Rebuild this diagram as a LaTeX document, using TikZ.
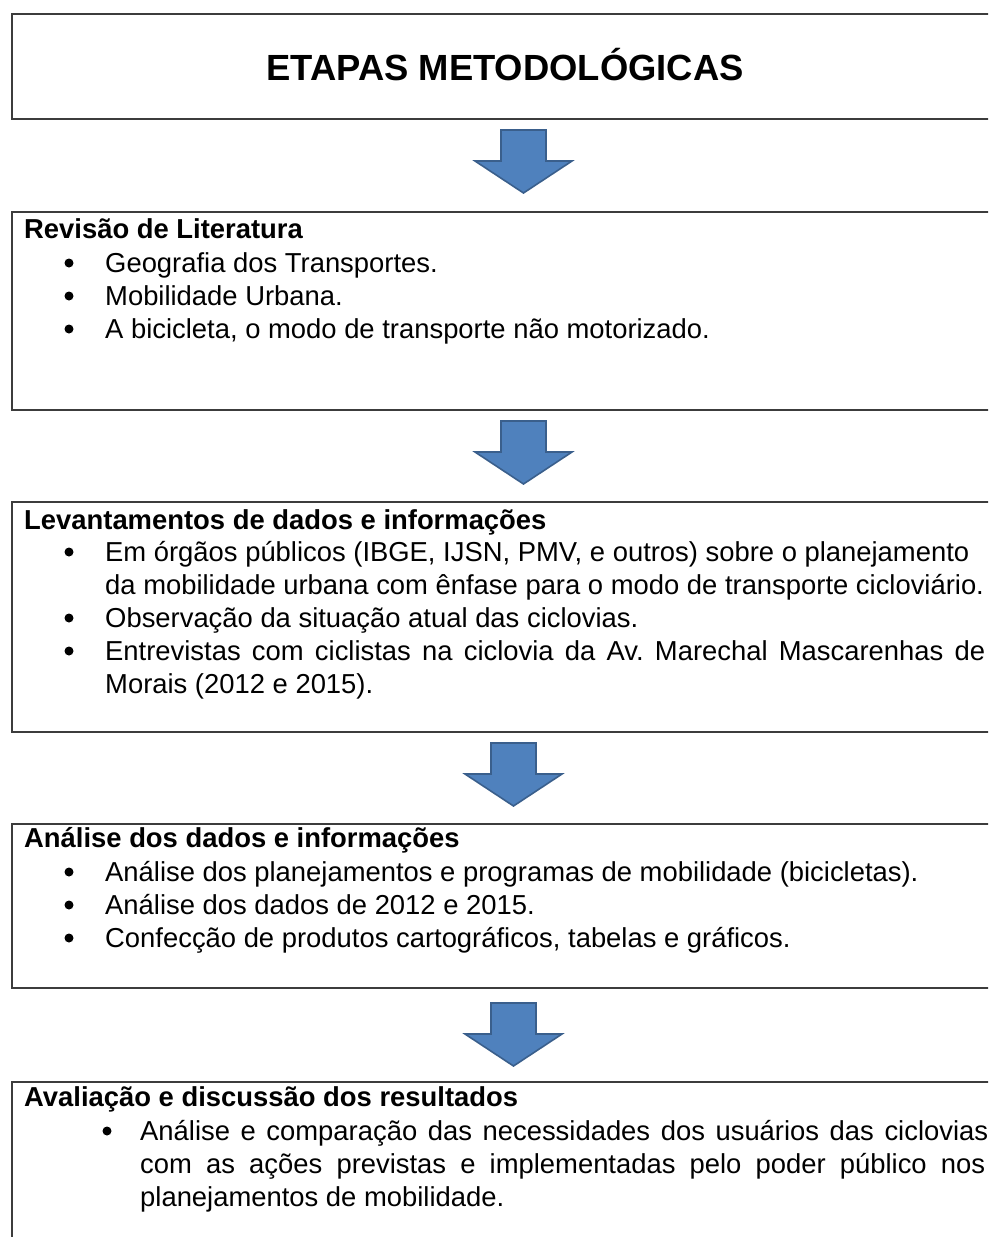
\documentclass[tikz,border=0pt]{standalone}
\usepackage{fontspec}
\setmainfont{Liberation Sans}
\definecolor{boxgray}{HTML}{3C3C3C}
\definecolor{arrfill}{HTML}{4F81BD}
\definecolor{arrline}{HTML}{3A5F8C}
\frenchspacing
\begin{document}
\begin{tikzpicture}[x=1pt,y=-1pt,
  box/.style={draw=boxgray, line width=2.2pt, rectangle, anchor=north west, inner sep=0pt},
  titletext/.style={inner sep=0pt, anchor=base, font=\fontsize{36.4}{40}\selectfont\bfseries},
  head/.style={anchor=base west, inner sep=0pt, font=\fontsize{27.4}{33}\selectfont\bfseries},
  item/.style={anchor=base west, inner sep=0pt, font=\fontsize{27.4}{33}\selectfont},
  dot/.style={fill=black},
  arrowfill/.style={fill=arrfill, draw=arrline, line width=1.6pt, line join=miter},
  downarr/.pic={\path[arrowfill] (-22.5,0) -- (22.5,0) -- (22.5,31) -- (48.5,31) -- (0,63) -- (-48.5,31) -- (-22.5,31) -- cycle;}
]
\clip (0,0) rectangle (988,1237);
\fill[white] (0,0) rectangle (988,1237);

% title
\node[box, minimum width=1000pt, minimum height=105pt] (b0) at (11,13) {};
\node[titletext] (t0) at (505,80) {ETAPAS METODOLÓGICAS};

% arrow 1
\coordinate (a1) at (523.5,130);
\pic at (a1) {downarr};

% box 2
\node[box, minimum width=1000pt, minimum height=198pt] (b1) at (11,211) {};
\node[head] (h1) at (24,238) {Revisão de Literatura};
\fill[dot] (69,263) circle (4.5);
\node[item] (i11) at (105,272) {Geografia dos Transportes.};
\fill[dot] (69,296) circle (4.5);
\node[item] (i12) at (105,305) {Mobilidade Urbana.};
\fill[dot] (69,329) circle (4.5);
\node[item] (i13) at (105,338) {A bicicleta, o modo de transporte não motorizado.};

% arrow 2
\coordinate (a2) at (523.5,421);
\pic at (a2) {downarr};

% box 3
\node[box, minimum width=1000pt, minimum height=230pt] (b2) at (11,501) {};
\node[head] (h2) at (24,529) {Levantamentos de dados e informações};
\fill[dot] (69,552) circle (4.5);
\node[item] (i21) at (105,561) {Em órgãos públicos (IBGE, IJSN, PMV, e outros) sobre o planejamento};
\node[item] (i22) at (105,594) {da mobilidade urbana com ênfase para o modo de transporte cicloviário.};
\fill[dot] (69,618) circle (4.5);
\node[item] (i23) at (105,627) {Observação da situação atual das ciclovias.};
\fill[dot] (69,651) circle (4.5);
\node[item] (i24) at (105,660) {\makebox[880pt][s]{Entrevistas com ciclistas na ciclovia da Av. Marechal Mascarenhas de}};
\node[item] (i25) at (105,693) {Morais (2012 e 2015).};

% arrow 3
\coordinate (a3) at (513.5,743);
\pic at (a3) {downarr};

% box 4
\node[box, minimum width=1000pt, minimum height=164pt] (b3) at (11,823) {};
\node[head] (h3) at (24,847) {Análise dos dados e informações};
\fill[dot] (69,872) circle (4.5);
\node[item] (i31) at (105,881) {Análise dos planejamentos e programas de mobilidade (bicicletas).};
\fill[dot] (69,905) circle (4.5);
\node[item] (i32) at (105,914) {Análise dos dados de 2012 e 2015.};
\fill[dot] (69,938) circle (4.5);
\node[item] (i33) at (105,947) {Confecção de produtos cartográficos, tabelas e gráficos.};

% arrow 4
\coordinate (a4) at (513.5,1003);
\pic at (a4) {downarr};

% box 5
\node[box, minimum width=1000pt, minimum height=200pt] (b4) at (11,1081) {};
\node[head] (h4) at (24,1106) {Avaliação e discussão dos resultados};
\fill[dot] (107,1131) circle (4.5);
\node[item] (i41) at (140,1140) {\makebox[848pt][s]{Análise e comparação das necessidades dos usuários das ciclovias}};
\node[item] (i42) at (140,1173) {\makebox[845pt][s]{com as ações previstas e implementadas pelo poder público nos}};
\node[item] (i43) at (140,1206) {planejamentos de mobilidade.};
\end{tikzpicture}
\end{document}
